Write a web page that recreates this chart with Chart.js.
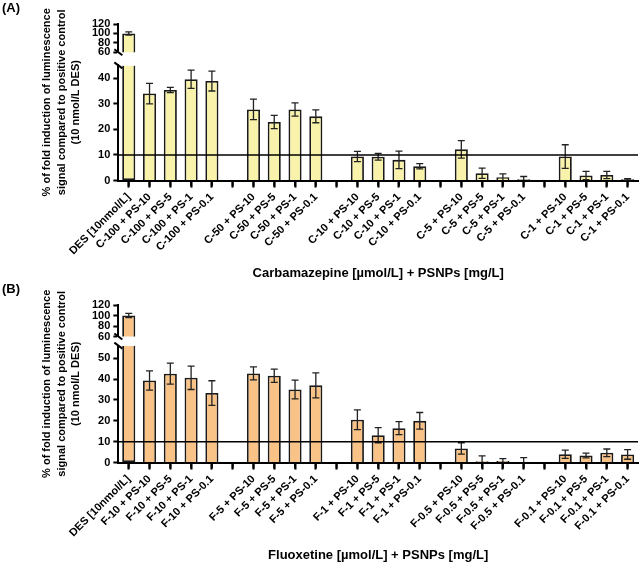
<!DOCTYPE html>
<html>
<head>
<meta charset="UTF-8">
<title>Luminescence induction - CBZ / FLX + PSNPs</title>
<script src="https://cdn.jsdelivr.net/npm/chart.js@4.4.1/dist/chart.umd.min.js"></script>
<style>
  body { margin: 0; background: #fff; }
  .panel { position: relative; width: 640px; }
</style>
</head>
<body>
<div class="panel" style="height:281px"><canvas id="chartA" width="640" height="281"></canvas></div>
<div class="panel" style="height:282px"><canvas id="chartB" width="640" height="282"></canvas></div>
<script>
// Panel A - carbamazepine
const carbLabels = [
    'DES [10nmol/L]',
    'C-100 + PS-10', 'C-100 + PS-5', 'C-100 + PS-1', 'C-100 + PS-0.1', '',
    'C-50 + PS-10', 'C-50 + PS-5', 'C-50 + PS-1', 'C-50 + PS-0.1', '',
    'C-10 + PS-10', 'C-10 + PS-5', 'C-10 + PS-1', 'C-10 + PS-0.1', '',
    'C-5 + PS-10', 'C-5 + PS-5', 'C-5 + PS-1', 'C-5 + PS-0.1', '',
    'C-1 + PS-10', 'C-1 + PS-5', 'C-1 + PS-1', 'C-1 + PS-0.1'
];
const carbValues = [
    100,
    34, 35.4, 39.6, 38.9, null,
    27.8, 22.9, 27.8, 25.1, null,
    9.4, 9.3, 8.1, 5.6, null,
    12.2, 2.9, 1.3, 0.5, null,
    9.4, 2, 2.2, 0.5
];
const carbErrors = [
    3.5,
    4, 1, 3.6, 3.9, null,
    4, 2.6, 2.6, 2.5, null,
    2, 1.3, 3.4, 1, null,
    3.4, 2, 1.3, 1.1, null,
    4.6, 1.6, 1.4, 0.3
];

// Panel B - fluoxetine
const fluoLabels = [
    'DES [10nmol/L]',
    'F-10 + PS-10', 'F-10 + PS-5', 'F-10 + PS-1', 'F-10 + PS-0.1', '',
    'F-5 + PS-10', 'F-5 + PS-5', 'F-5 + PS-1', 'F-5 + PS-0.1', '',
    'F-1 + PS-10', 'F-1 + PS-5', 'F-1 + PS-1', 'F-1 + PS-0.1', '',
    'F-0.5 + PS-10', 'F-0.5 + PS-5', 'F-0.5 + PS-1', 'F-0.5 + PS-0.1', '',
    'F-0.1 + PS-10', 'F-0.1 + PS-5', 'F-0.1 + PS-1', 'F-0.1 + PS-0.1'
];
const fluoValues = [
    100,
    39.3, 42.6, 40.6, 33.3, null,
    42.7, 41.6, 35, 37, null,
    20.5, 13.1, 16.5, 20, null,
    6.8, 0.7, 0.8, 0.3, null,
    4, 3.4, 4.7, 3.9
];
const fluoErrors = [
    4,
    4.6, 5, 5.6, 5.9, null,
    3.1, 3.2, 4.5, 6, null,
    4.7, 3.6, 3.1, 4, null,
    2.7, 2.5, 1.1, 2.1, null,
    2, 1.1, 1.8, 2.3
];

const highTicks = [60, 80, 100, 120];
const lowTicksA = [0, 10, 20, 30, 40];
const lowTicksB = [0, 10, 20, 30, 40, 50];
const yTitleLines = [
    '% of fold induction of luminescence',
    'signal compared to positive control',
    '(10 nmol/L DES)'
];
const threshold = 10;

Chart.defaults.font.family = '"Liberation Sans", Arial, Helvetica, sans-serif';
Chart.defaults.color = '#000';

// error bars, 10 % line, axis ticks, break marks and side texts
const panelDecor = {
    id: 'panelDecor',
    afterDatasetsDraw(chart, args, o) {
        const ctx = chart.ctx;
        const area = chart.chartArea;
        ctx.save();
        chart.data.datasets.forEach((ds, i) => {
            const meta = chart.getDatasetMeta(i);
            const scale = meta.vScale;
            meta.data.forEach((bar, j) => {
                const v = ds.data[j];
                const e = ds.errors[j];
                if (v == null || e == null) return;
                const yTop = scale.getPixelForValue(v + e);
                const lowVal = v - e;
                const yBot = scale.getPixelForValue(Math.max(lowVal, scale.min));
                ctx.strokeStyle = '#222';
                ctx.lineWidth = 1.3;
                ctx.beginPath();
                ctx.moveTo(bar.x, yTop);
                ctx.lineTo(bar.x, yBot);
                ctx.moveTo(bar.x - 3.5, yTop);
                ctx.lineTo(bar.x + 3.5, yTop);
                if (lowVal > scale.min) {
                    ctx.moveTo(bar.x - 3.5, yBot);
                    ctx.lineTo(bar.x + 3.5, yBot);
                }
                ctx.stroke();
            });
        });
        const yRef = chart.scales.yLow.getPixelForValue(o.refValue);
        ctx.strokeStyle = '#000';
        ctx.lineWidth = 1.5;
        ctx.beginPath();
        ctx.moveTo(area.left, yRef);
        ctx.lineTo(area.right, yRef);
        ctx.stroke();
        ctx.restore();
    },
    afterDraw(chart, args, o) {
        const ctx = chart.ctx;
        const low = chart.scales.yLow;
        const high = chart.scales.yHigh;
        const xs = chart.scales.x;
        const x = chart.chartArea.left;
        ctx.save();
        ctx.strokeStyle = '#000';
        ctx.lineWidth = 2;
        ctx.beginPath();
        // tick marks under the category axis
        xs.ticks.forEach((t, i) => {
            const px = xs.getPixelForTick(i);
            ctx.moveTo(px, xs.top);
            ctx.lineTo(px, xs.top + 6);
        });
        // break marks
        [high.bottom, low.top].forEach(y => {
            ctx.moveTo(x - 4, y - 3);
            ctx.lineTo(x + 4, y + 3);
        });
        ctx.stroke();
        // y title
        ctx.fillStyle = '#000';
        ctx.font = 'bold 11px "Liberation Sans", Arial, sans-serif';
        ctx.textAlign = 'center';
        ctx.textBaseline = 'middle';
        const yc = (high.top + low.bottom) / 2;
        o.titleLines.forEach((line, k) => {
            ctx.save();
            ctx.translate(o.titleX[k], yc);
            ctx.rotate(-Math.PI / 2);
            ctx.fillText(line, 0, 0);
            ctx.restore();
        });
        // panel letter
        ctx.font = 'bold 13px "Liberation Sans", Arial, sans-serif';
        ctx.textAlign = 'left';
        ctx.textBaseline = 'top';
        ctx.fillText(o.letter, 2, 2);
        ctx.restore();
    }
};

function yTickStyle() {
    return {
        grid: { display: true, drawOnChartArea: false, drawTicks: true, tickLength: 5, tickWidth: 2, tickColor: '#000' },
        border: { display: true, color: '#000', width: 2 },
        ticks: { autoSkip: false, padding: 3, color: '#000', font: { size: 11, weight: 'bold' } }
    };
}

function buildPanel(canvasId, p) {
    const lowMax = p.lowMax;
    const lowData = p.values.map(v => v == null ? null : Math.min(v, lowMax));
    const highData = p.values.map(v => v != null && v > lowMax ? v : null);
    const lowErr = p.errors.map((e, i) => p.values[i] > lowMax ? null : e);
    const highErr = p.errors.map((e, i) => p.values[i] > lowMax ? e : null);
    const barStyle = {
        backgroundColor: p.color,
        borderColor: '#1a1a1a',
        borderWidth: 1.8,
        grouped: false,
        categoryPercentage: 1,
        barPercentage: 0.63
    };

    return new Chart(document.getElementById(canvasId), {
        type: 'bar',
        data: {
            labels: p.labels,
            datasets: [
                Object.assign({
                    data: lowData, errors: lowErr, yAxisID: 'yLow',
                    borderSkipped: ctx => p.values[ctx.dataIndex] > lowMax ? 'end' : 'start'
                }, barStyle),
                Object.assign({ data: highData, errors: highErr, yAxisID: 'yHigh' }, barStyle)
            ]
        },
        options: {
            responsive: false,
            animation: false,
            layout: { padding: { left: 89, top: 24, right: 2, bottom: 0 } },
            plugins: {
                legend: { display: false },
                tooltip: { enabled: false },
                panelDecor: { refValue: threshold, titleLines: yTitleLines, titleX: [47, 61.5, 76], letter: p.letter }
            },
            scales: {
                x: {
                    offset: true,
                    grid: { display: true, drawOnChartArea: false, drawTicks: true, offset: false, tickLength: 7, tickWidth: 2, tickColor: '#000' },
                    border: { display: true, color: '#000', width: 2 },
                    ticks: { autoSkip: false, minRotation: 45, maxRotation: 45, padding: 3, color: '#000', font: { size: 11, weight: 'bold' } },
                    title: { display: true, text: p.xTitle, color: '#000', font: { size: 13, weight: 'bold' }, padding: { top: 5, bottom: 0 } }
                },
                yLow: Object.assign({
                    type: 'linear', axis: 'y', position: 'left', stack: 'v', stackWeight: p.weights[2],
                    min: 0, max: lowMax,
                    afterBuildTicks: s => { s.ticks = p.lowTicks.map(v => ({ value: v })); }
                }, yTickStyle()),
                yGap: {
                    type: 'linear', axis: 'y', position: 'left', stack: 'v', stackWeight: p.weights[1],
                    min: 0, max: 1,
                    grid: { display: false }, border: { display: false }, ticks: { display: false }
                },
                yHigh: Object.assign({
                    type: 'linear', axis: 'y', position: 'left', stack: 'v', stackWeight: p.weights[0],
                    min: 60, max: 120,
                    afterBuildTicks: s => { s.ticks = highTicks.map(v => ({ value: v })); }
                }, yTickStyle())
            }
        },
        plugins: [panelDecor]
    });
}

buildPanel('chartA', {
    letter: '(A)',
    labels: carbLabels, values: carbValues, errors: carbErrors,
    lowMax: 45, lowTicks: lowTicksA, weights: [28, 13, 114],
    color: '#f9f2aa',
    xTitle: 'Carbamazepine [\u00b5mol/L] + PSNPs [mg/L]'
});

buildPanel('chartB', {
    letter: '(B)',
    labels: fluoLabels, values: fluoValues, errors: fluoErrors,
    lowMax: 56, lowTicks: lowTicksB, weights: [31, 9, 115],
    color: '#f9c287',
    xTitle: 'Fluoxetine [\u00b5mol/L] + PSNPs [mg/L]'
});
</script>
</body>
</html>
